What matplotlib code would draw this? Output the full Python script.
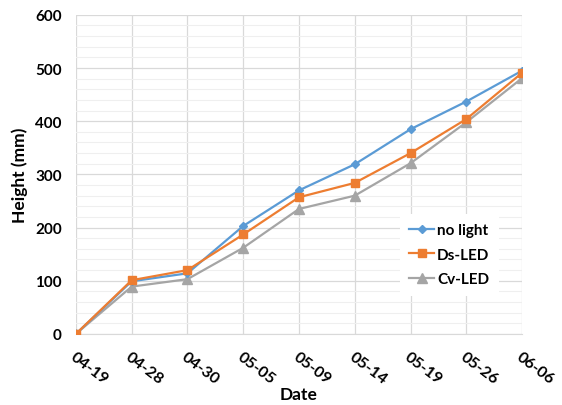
import numpy as np
import matplotlib.pyplot as plt
from matplotlib.ticker import MultipleLocator

dates = ["04-19", "04-28", "04-30", "05-05", "05-09", "05-14", "05-19", "05-26", "06-06"]
no_light = [0, 99, 114, 203, 270, 319, 385, 437, 495]
ds_led = [0, 101, 120, 187, 257, 284, 340, 404, 491]
cv_led = [0, 89, 103, 162, 235, 260, 321, 398, 481]


def main():
    plt.rcParams['font.family'] = ['Lato', 'DejaVu Sans']
    fig = plt.figure(figsize=(5.62, 4.06), dpi=100)
    ax = fig.add_axes([0.135, 0.175, 0.794, 0.786])

    x = np.arange(len(dates))
    ax.plot(x, no_light, color='#5B9BD5', lw=1.6, marker='D', ms=4.5, label='no light', zorder=3)
    ax.plot(x, ds_led, color='#ED7D31', lw=1.6, marker='s', ms=6, label='Ds-LED', zorder=4)
    ax.plot(x, cv_led, color='#A5A5A5', lw=1.6, marker='^', ms=6.5, label='Cv-LED', zorder=2)

    ax.set_xlim(0, len(dates) - 1)
    ax.set_ylim(0, 600)
    ax.yaxis.set_major_locator(MultipleLocator(100))
    ax.yaxis.set_minor_locator(MultipleLocator(20))
    ax.set_xticks(x)
    ax.set_xticklabels(dates, rotation=-37, ha='left', rotation_mode='anchor',
                       fontsize=11.5, fontweight='bold')
    for lab in ax.get_yticklabels():
        lab.set_fontsize(11)
        lab.set_fontweight('bold')

    ax.grid(which='major', color='#d9d9d9', lw=0.9)
    ax.grid(which='minor', axis='y', color='#efefef', lw=0.8)
    ax.set_axisbelow(True)
    for side in ['top', 'right', 'left']:
        ax.spines[side].set_visible(False)
    ax.spines['bottom'].set_color('#d9d9d9')
    ax.tick_params(which='both', length=0)
    ax.tick_params(axis='y', pad=10)
    ax.tick_params(axis='x', pad=11)

    ax.set_xlabel("Date", fontsize=12.5, fontweight='bold', labelpad=0)
    ax.set_ylabel("Height (mm)", fontsize=12.5, fontweight='bold', labelpad=5)

    ax.legend(loc='upper left', bbox_to_anchor=(0.71, 0.40), frameon=True,
              fancybox=False, edgecolor='none', framealpha=1,
              prop={'weight': 'bold', 'size': 11}, handlelength=1.6,
              handletextpad=0.2, labelspacing=0.7, borderpad=0.6)

    fig.savefig("out.png", dpi=100)


if __name__ == "__main__":
    main()
